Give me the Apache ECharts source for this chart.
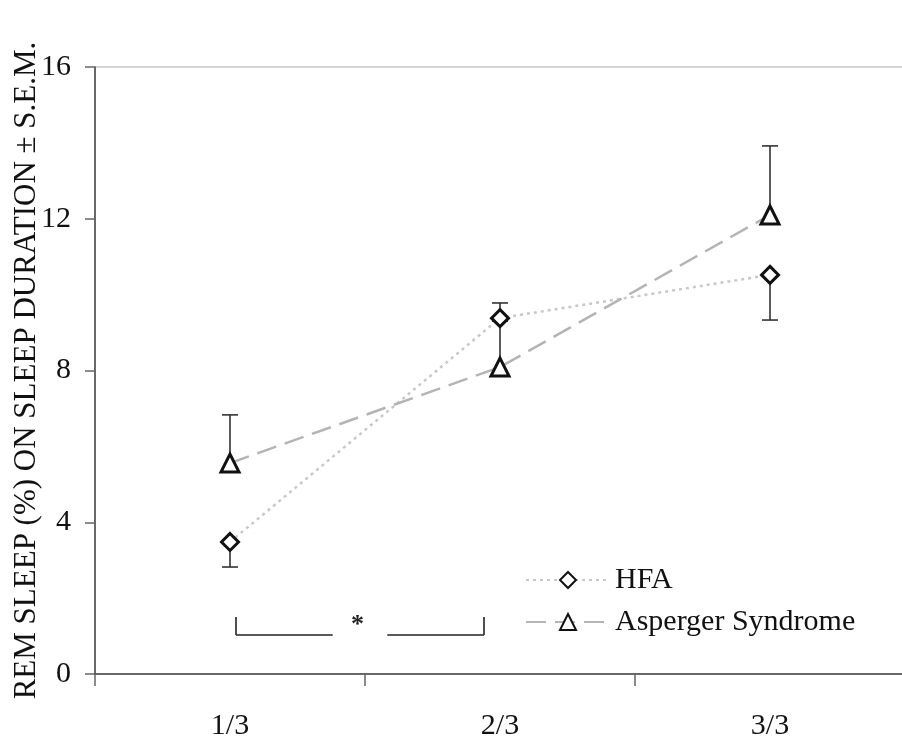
<!DOCTYPE html>
<html><head><meta charset="utf-8">
<script src="https://cdn.jsdelivr.net/npm/echarts@6/dist/echarts.min.js"></script>
<style>html,body{margin:0;padding:0;background:#fff}#c{width:902px;height:746px}</style>
</head><body><div id="c"></div>
<script>
const categories = ['1/3', '2/3', '3/3'];
const hfaMean = [3.48, 9.38, 10.52];
const hfaErrEnd = [2.82, 9.78, 9.33];
const aspMean = [5.56, 8.09, 12.10];
const aspErrEnd = [6.83, 9.30, 13.92];
const yTicks = [0, 4, 8, 12, 16];
const bracket = [[0, 1, 1, 1.5]]; // from category 0 to category 1 at y=1, arms up to 1.5
const bracketMark = '*';

const FONT = 'Liberation Serif';
const chart = echarts.init(document.getElementById('c'));

function errItem(params, api) {
  const x = api.value(0), m = api.value(1), e = api.value(2);
  const p1 = api.coord([x, m]), p2 = api.coord([x, e]);
  const hw = 8;
  return { type: 'group', children: [
    { type: 'line', shape: { x1: p1[0], y1: p1[1], x2: p2[0], y2: p2[1] }, style: { stroke: '#333', lineWidth: 1.6 } },
    { type: 'line', shape: { x1: p2[0] - hw, y1: p2[1], x2: p2[0] + hw, y2: p2[1] }, style: { stroke: '#333', lineWidth: 1.6 } }
  ]};
}

function bracketItem(params, api) {
  const a = api.coord([api.value(0), api.value(2)]);
  const b = api.coord([api.value(1), api.value(2)]);
  const top = api.coord([api.value(0), api.value(3)])[1];
  const x0 = a[0] + 6, x1 = b[0] - 16, y = a[1] - 1;
  const w = x1 - x0;
  const st = { stroke: '#222', lineWidth: 1.6 };
  return { type: 'group', children: [
    { type: 'line', shape: { x1: x0, y1: top, x2: x0, y2: y }, style: st },
    { type: 'line', shape: { x1: x0, y1: y, x2: x0 + w * 0.39, y2: y }, style: st },
    { type: 'line', shape: { x1: x0 + w * 0.61, y1: y, x2: x1, y2: y }, style: st },
    { type: 'line', shape: { x1: x1, y1: top, x2: x1, y2: y }, style: st },
    { type: 'text', style: { text: bracketMark, x: x0 + w * 0.49, y: y + 3, align: 'center', verticalAlign: 'bottom', font: 'bold 26px "Liberation Serif"', fill: '#222' } }
  ]};
}

const markerStyle = { color: '#fff', borderColor: '#111', borderWidth: 3 };

chart.setOption({
  animation: false,
  backgroundColor: '#fff',
  grid: { left: 95, top: 67, right: -3, bottom: 72, outerBoundsMode: 'none', containLabel: false, show: true, borderColor: '#aaa', borderWidth: 1, backgroundColor: 'transparent' },
  legend: {
    orient: 'vertical', left: 520, top: 560, itemWidth: 84, itemHeight: 20, itemGap: 12,
    data: ['HFA', 'Asperger Syndrome'],
    textStyle: { fontFamily: FONT, fontSize: 30, color: '#111', lineHeight: 30 }
  },
  xAxis: {
    type: 'category', data: categories, boundaryGap: true,
    axisLine: { lineStyle: { color: '#444', width: 1.5 } },
    axisTick: { show: true, length: 12, lineStyle: { color: '#666', width: 1.5 } },
    axisLabel: { fontFamily: FONT, fontSize: 30, color: '#111', margin: 37 },
    splitLine: { show: false }
  },
  yAxis: {
    type: 'value', min: yTicks[0], max: yTicks[yTicks.length - 1], interval: yTicks[1] - yTicks[0],
    name: 'REM SLEEP (%) ON SLEEP DURATION ± S.E.M.',
    nameLocation: 'middle', nameRotate: 90, nameGap: 53, nameMoveOverlap: false,
    nameTextStyle: { fontFamily: FONT, fontSize: 31, color: '#111' },
    axisLine: { show: true, lineStyle: { color: '#444', width: 1.5 } },
    axisTick: { show: true, length: 10, lineStyle: { color: '#666', width: 1.5 } },
    axisLabel: { fontFamily: FONT, fontSize: 30, color: '#111', margin: 24 },
    splitLine: { show: false }
  },
  series: [
    { type: 'custom', name: 'hfaErr', renderItem: errItem, z: 1,
      data: categories.map((c, i) => [i, hfaMean[i], hfaErrEnd[i]]), encode: { x: 0, y: [1, 2] } },
    { type: 'custom', name: 'aspErr', renderItem: errItem, z: 1,
      data: categories.map((c, i) => [i, aspMean[i], aspErrEnd[i]]), encode: { x: 0, y: [1, 2] } },
    { type: 'custom', name: 'bracket', renderItem: bracketItem, z: 1,
      data: bracket, encode: { x: [0, 1], y: [2, 3] } },
    { type: 'line', name: 'HFA', data: hfaMean, z: 5,
      symbol: 'diamond', symbolSize: 17,
      lineStyle: { color: '#c8c8c8', width: 2.5, type: [3, 4] },
      itemStyle: markerStyle },
    { type: 'line', name: 'Asperger Syndrome', data: aspMean, z: 5,
      symbol: 'triangle', symbolSize: 18,
      lineStyle: { color: '#b4b4b4', width: 2.5, type: [20, 9] },
      itemStyle: markerStyle }
  ]
});
</script></body></html>
